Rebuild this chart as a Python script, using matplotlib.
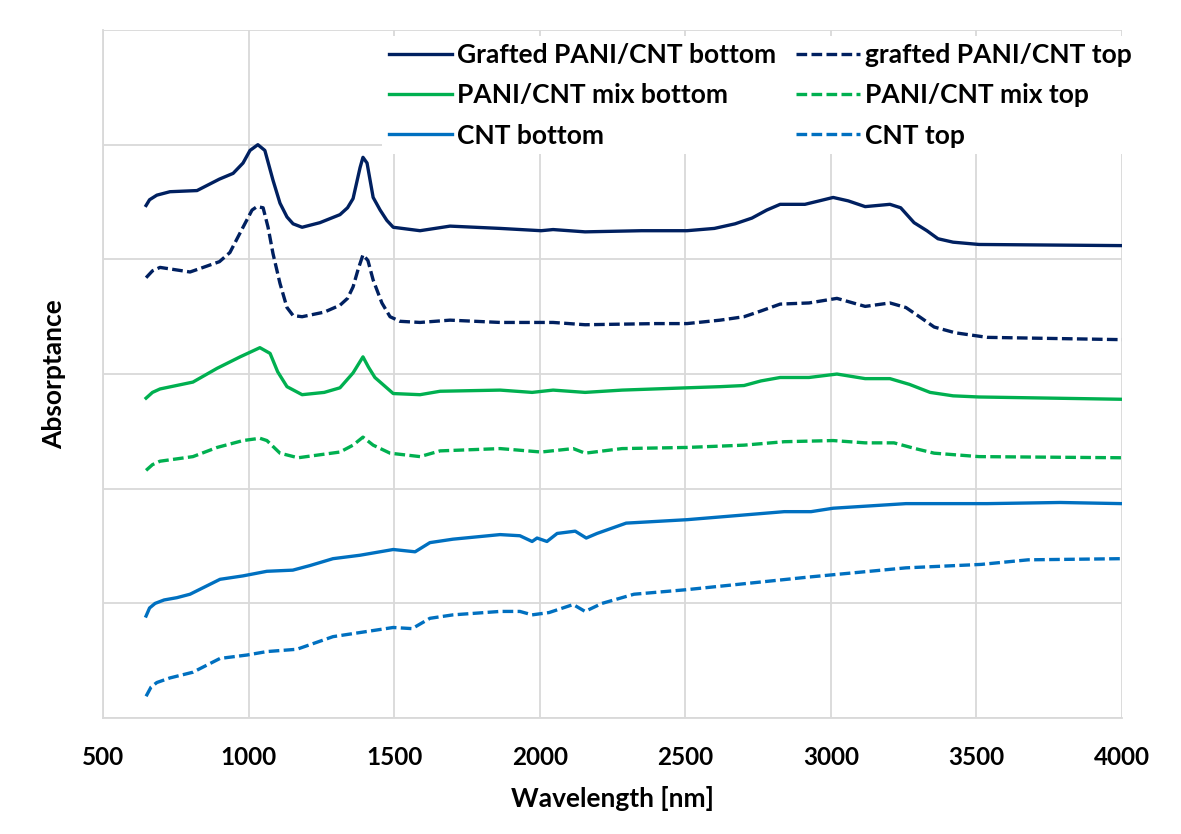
import matplotlib
matplotlib.use('Agg')
import matplotlib.pyplot as plt

# wavelength [nm] / absorptance (offset, arbitrary units)
gb_x = [648, 660, 685, 730, 823, 900, 947, 981, 1005, 1032, 1056, 1084, 1108, 1132, 1153, 1184, 1245, 1314, 1340,
        1359, 1383, 1393, 1407, 1428, 1452, 1475, 1497, 1589, 1692, 1864, 2005, 2046, 2156, 2350, 2506, 2600,
        2671, 2729, 2780, 2826, 2911, 2960, 3008, 3060, 3118, 3203, 3240, 3286, 3330, 3368, 3420, 3509, 4000]
gb_y = [4.47, 4.52, 4.56, 4.59, 4.60, 4.70, 4.75, 4.84, 4.95, 5.00, 4.95, 4.69, 4.49, 4.37, 4.31, 4.28, 4.32, 4.39,
        4.45, 4.53, 4.80, 4.89, 4.84, 4.54, 4.43, 4.34, 4.28, 4.25, 4.29, 4.27, 4.25, 4.26, 4.24, 4.25, 4.25, 4.27,
        4.31, 4.36, 4.43, 4.48, 4.48, 4.51, 4.54, 4.51, 4.46, 4.48, 4.45, 4.32, 4.25, 4.18, 4.15, 4.13, 4.12]

gt_x = [648, 670, 696, 799, 833, 900, 936, 981, 1012, 1029, 1050, 1067, 1084, 1108, 1132, 1153, 1184, 1260, 1314,
        1340, 1359, 1376, 1393, 1410, 1428, 1458, 1486, 1520, 1589, 1692, 1864, 2046, 2156, 2400, 2506, 2620,
        2702, 2760, 2826, 2925, 3021, 3118, 3203, 3258, 3310, 3355, 3427, 3537, 4000]
gt_y = [3.84, 3.90, 3.93, 3.89, 3.92, 3.98, 4.06, 4.28, 4.43, 4.46, 4.45, 4.28, 4.05, 3.79, 3.58, 3.51, 3.50, 3.54,
        3.60, 3.66, 3.76, 3.91, 4.04, 3.99, 3.82, 3.62, 3.50, 3.46, 3.45, 3.47, 3.45, 3.45, 3.43, 3.44, 3.44, 3.47,
        3.50, 3.55, 3.61, 3.62, 3.66, 3.59, 3.62, 3.58, 3.49, 3.41, 3.36, 3.32, 3.30]

mb_x = [648, 670, 696, 809, 892, 971, 1039, 1074, 1100, 1132, 1184, 1260, 1314, 1359, 1393, 1412, 1434, 1497, 1589,
        1658, 1864, 1974, 2046, 2156, 2283, 2506, 2620, 2702, 2760, 2826, 2925, 3021, 3118, 3203, 3270, 3341,
        3420, 3509, 4000]
mb_y = [2.79, 2.84, 2.87, 2.93, 3.05, 3.15, 3.23, 3.18, 3.02, 2.89, 2.82, 2.84, 2.88, 3.01, 3.15, 3.06, 2.97, 2.83,
        2.82, 2.85, 2.86, 2.84, 2.86, 2.84, 2.86, 2.88, 2.89, 2.90, 2.94, 2.97, 2.97, 3.00, 2.96, 2.96, 2.91, 2.84,
        2.81, 2.80, 2.78]

mt_x = [648, 670, 696, 809, 892, 981, 1039, 1063, 1108, 1170, 1314, 1359, 1393, 1428, 1486, 1589, 1658, 1864, 2005,
        2115, 2156, 2283, 2506, 2702, 2840, 3008, 3118, 3217, 3290, 3355, 3509, 4000]
mt_y = [2.16, 2.21, 2.24, 2.28, 2.36, 2.42, 2.44, 2.42, 2.31, 2.27, 2.32, 2.38, 2.45, 2.38, 2.31, 2.28, 2.33, 2.35,
        2.32, 2.35, 2.31, 2.35, 2.36, 2.38, 2.41, 2.42, 2.40, 2.40, 2.35, 2.31, 2.28, 2.27]

cb_x = [648, 660, 679, 710, 754, 799, 902, 981, 1063, 1152, 1211, 1290, 1383, 1497, 1572, 1623, 1702, 1864, 1932,
        1974, 1991, 2025, 2060, 2122, 2160, 2197, 2297, 2506, 2840, 2932, 3008, 3258, 3537, 3788, 4000]
cb_y = [0.89, 0.96, 1.00, 1.03, 1.05, 1.08, 1.21, 1.24, 1.28, 1.29, 1.33, 1.39, 1.42, 1.47, 1.45, 1.53, 1.56, 1.60,
        1.59, 1.54, 1.57, 1.54, 1.61, 1.63, 1.57, 1.61, 1.70, 1.73, 1.80, 1.80, 1.83, 1.87, 1.87, 1.88, 1.87]

ct_x = [648, 665, 685, 730, 809, 902, 995, 1063, 1166, 1290, 1497, 1562, 1623, 1702, 1864, 1932, 1974, 2032, 2115,
        2156, 2214, 2324, 2506, 2925, 3258, 3516, 3678, 4000]
ct_y = [0.19, 0.27, 0.31, 0.35, 0.40, 0.52, 0.55, 0.58, 0.60, 0.71, 0.79, 0.78, 0.87, 0.90, 0.93, 0.93, 0.90, 0.92,
        0.99, 0.93, 1.00, 1.08, 1.12, 1.23, 1.31, 1.34, 1.38, 1.39]

navy = '#002060'
green = '#00B050'
blue = '#0070C0'
grid_c = '#D9D9D9'
dash = (0, (3.2, 1.3))

plt.rcParams['font.family'] = ['Lato', 'DejaVu Sans']
plt.rcParams['font.weight'] = 'bold'

fig = plt.figure(figsize=(11.81, 8.34), dpi=100)
ax = fig.add_axes([0.0872, 0.139, 0.8628, 0.825])

lw = 2.4
l1, = ax.plot(gb_x, gb_y, color=navy, lw=lw, label='Grafted PANI/CNT bottom')
l2, = ax.plot(gt_x, gt_y, color=navy, lw=lw, ls=dash, label='grafted PANI/CNT top')
l3, = ax.plot(mb_x, mb_y, color=green, lw=lw, label='PANI/CNT mix bottom')
l4, = ax.plot(mt_x, mt_y, color=green, lw=lw, ls=dash, label='PANI/CNT mix top')
l5, = ax.plot(cb_x, cb_y, color=blue, lw=lw, label='CNT bottom')
l6, = ax.plot(ct_x, ct_y, color=blue, lw=lw, ls=dash, label='CNT top')

ax.set_xlim(500, 4000)
ax.set_ylim(0, 6)
ax.set_xticks(range(500, 4001, 500))
ax.set_yticks(range(0, 7))
ax.set_yticklabels([])
ax.grid(True, color=grid_c, lw=1.3)
ax.set_axisbelow(True)
for s in ['top', 'right']:
    ax.spines[s].set_visible(False)
for s in ['left', 'bottom']:
    ax.spines[s].set_color(grid_c)
    ax.spines[s].set_linewidth(1.3)
ax.tick_params(axis='both', length=0)
ax.tick_params(axis='x', pad=20, labelsize=17.5)

ax.set_xlabel('Wavelength [nm]', fontsize=19, fontweight='bold', labelpad=12)
ax.set_ylabel('Absorptance', fontsize=19, fontweight='bold', labelpad=23)

order = [l1, l3, l5, l2, l4, l6]
leg = ax.legend(order, [l.get_label() for l in order],
                ncol=2, loc='upper right', bbox_to_anchor=(1.016, 0.991),
                borderaxespad=0, frameon=True, fancybox=False, handlelength=2.4,
                handletextpad=0.2, columnspacing=0.75, labelspacing=0.62,
                borderpad=0.25, prop={'weight': 'bold', 'size': 19})
leg.get_frame().set_facecolor('white')
leg.get_frame().set_edgecolor('none')
leg.get_frame().set_alpha(1)

fig.savefig('out.png', dpi=100)
